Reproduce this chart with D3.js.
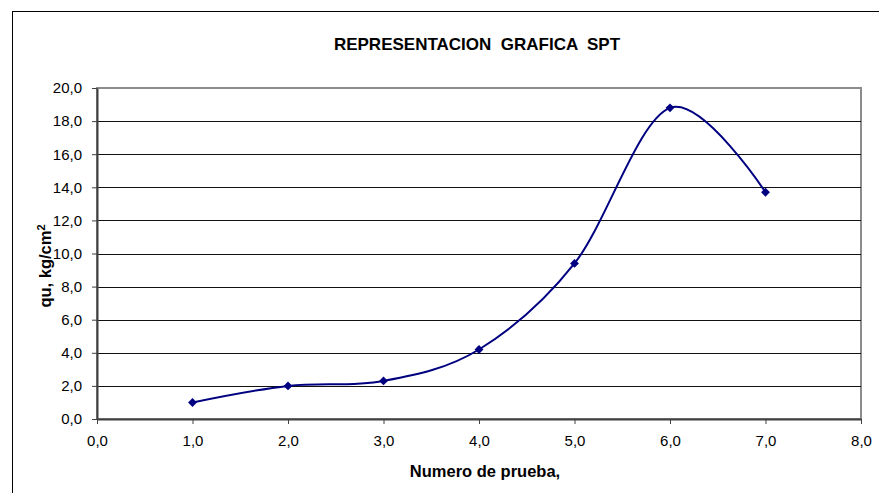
<!DOCTYPE html>
<html>
<head>
<meta charset="utf-8">
<script src="https://cdnjs.cloudflare.com/ajax/libs/d3/7.8.5/d3.min.js"></script>
<style>
  body { margin: 0; background: #fff; font-family: "Liberation Sans", Arial, sans-serif; }
  svg { display: block; }
  .title, .axis_label { font-weight: bold; fill: #000; }
</style>
</head>
<body>
<div id="container"><svg></svg></div>
<script>
let width = 879;
let height = 493;

// data
let pruebas = [1, 2, 3, 4, 5, 6, 7];
let qu = [1.0, 2.0, 2.3, 4.2, 9.4, 18.8, 13.7];
let x_ticks = [0, 1, 2, 3, 4, 5, 6, 7, 8];
let y_ticks = [0, 2, 4, 6, 8, 10, 12, 14, 16, 18, 20];

let title = 'REPRESENTACION  GRAFICA  SPT';
let x_attr = 'Numero de prueba,';

let padding = {'left': 97, 'right': width - 861, 'top': 88, 'bottom': height - 419};
let fmt = d => d3.format('.1f')(d).replace('.', ',');
let fontFamily = '"Liberation Sans", Arial, sans-serif';

let svg = d3.select('#container').select('svg')
    .attr('width', width)
    .attr('height', height);

// outer chart frame
svg.append('rect')
    .attr('x', 12.5).attr('y', 11.5)
    .attr('width', width + 20).attr('height', height + 20)
    .attr('fill', 'none')
    .attr('stroke', '#000')
    .attr('stroke-width', 1);

let x = d3.scaleLinear()
    .domain([0, 8])
    .range([padding.left, width - padding.right]);
let y = d3.scaleLinear()
    .domain([0, 20])
    .range([height - padding.bottom, padding.top]);

// plot area border (gray)
svg.append('rect')
    .attr('x', x(0)).attr('y', y(20))
    .attr('width', x(8) - x(0)).attr('height', y(0) - y(20))
    .attr('fill', 'none')
    .attr('stroke', '#8c8c8c')
    .attr('stroke-width', 2);

// gridlines
svg.append('g')
    .selectAll('line')
    .data(y_ticks.filter(d => d > 0 && d < 20))
    .enter().append('line')
    .attr('x1', x(0)).attr('x2', x(8))
    .attr('y1', d => Math.round(y(d)) + 0.5)
    .attr('y2', d => Math.round(y(d)) + 0.5)
    .attr('stroke', '#111')
    .attr('stroke-width', 1);

// x axis
let axis_x = d3.axisBottom(x)
    .tickValues(x_ticks)
    .tickSize(5)
    .tickSizeOuter(0)
    .tickPadding(11)
    .tickFormat(fmt);
let gx = svg.append('g')
    .attr('transform', `translate(0, ${y(0)})`)
    .call(axis_x)
    .attr('font-family', fontFamily)
    .attr('font-size', '15px');
gx.select('.domain').attr('stroke', '#404040').attr('stroke-width', 2);
gx.selectAll('.tick line').attr('stroke', '#404040');
gx.selectAll('.tick text').attr('fill', '#000');

// y axis
let axis_y = d3.axisLeft(y)
    .tickValues(y_ticks)
    .tickSize(5)
    .tickSizeOuter(0)
    .tickPadding(10)
    .tickFormat(fmt);
let gy = svg.append('g')
    .attr('transform', `translate(${x(0)}, 0)`)
    .call(axis_y)
    .attr('font-family', fontFamily)
    .attr('font-size', '15px');
gy.select('.domain').attr('stroke', '#404040').attr('stroke-width', 2);
gy.selectAll('.tick line').attr('stroke', '#404040');
gy.selectAll('.tick text').attr('fill', '#000');

// title
svg.append('text')
    .attr('class', 'title')
    .attr('x', 477).attr('y', 50)
    .attr('text-anchor', 'middle')
    .attr('font-size', '17px')
    .style('white-space', 'pre')
    .text(title);

// x label
svg.append('text')
    .attr('class', 'axis_label')
    .attr('x', 485).attr('y', 477)
    .attr('text-anchor', 'middle')
    .attr('font-size', '16.5px')
    .text(x_attr);

// y label
let ylab = svg.append('text')
    .attr('class', 'axis_label')
    .attr('transform', 'translate(51, 266) rotate(-90)')
    .attr('text-anchor', 'middle')
    .attr('font-size', '16.5px');
ylab.append('tspan').text('qu, kg/cm');
ylab.append('tspan').attr('dy', -6).attr('font-size', '11px').text('2');

// smoothed line
let pts = pruebas.map((d, i) => [d, qu[i]]);
let line = d3.line()
    .x(d => x(d[0]))
    .y(d => y(d[1]))
    .curve(d3.curveCatmullRom.alpha(0));
svg.append('path')
    .datum(pts)
    .attr('d', line)
    .attr('fill', 'none')
    .attr('stroke', '#000080')
    .attr('stroke-width', 2);

// markers
svg.append('g')
    .selectAll('path')
    .data(pts)
    .enter().append('path')
    .attr('d', d3.symbol().type(d3.symbolDiamond2).size(50))
    .attr('transform', d => `translate(${x(d[0])}, ${y(d[1])})`)
    .attr('fill', '#000080');
</script>
</body>
</html>
